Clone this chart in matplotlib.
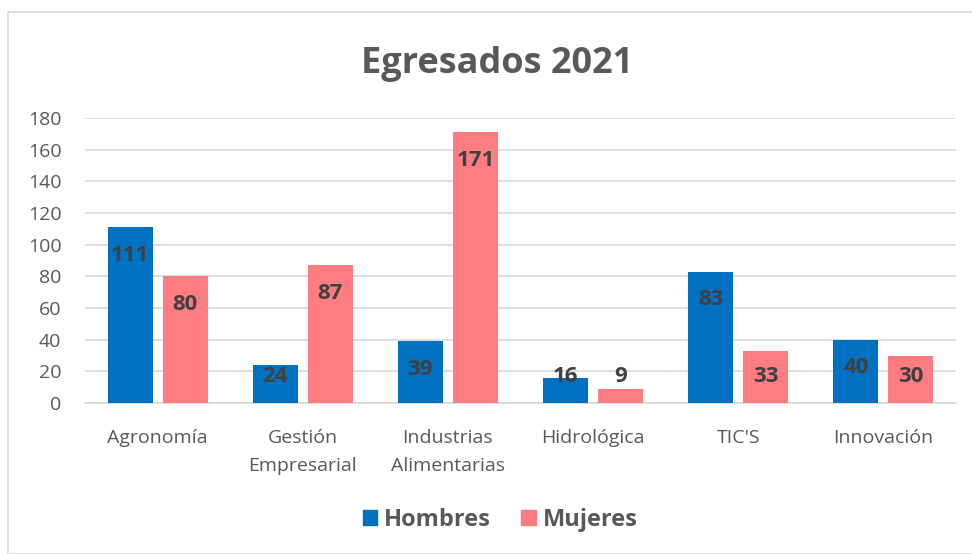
import matplotlib
matplotlib.use("Agg")
import matplotlib.pyplot as plt
from matplotlib.patches import Rectangle, Patch
import numpy as np

categories = ["Agronomía", "Gestión\nEmpresarial", "Industrias\nAlimentarias", "Hidrológica", "TIC'S", "Innovación"]
hombres = [111, 24, 39, 16, 83, 40]
mujeres = [80, 87, 171, 9, 33, 30]
yticks = [0, 20, 40, 60, 80, 100, 120, 140, 160, 180]

BLUE = "#0070C0"
PINK = "#FF7C80"
TXT = "#595959"
LBL = "#404040"

plt.rcParams['font.family'] = ['Open Sans', 'DejaVu Sans']

fig = plt.figure(figsize=(9.72, 5.54), dpi=100)
W, H = 972, 554
ax = fig.add_axes([85 / W, (H - 403) / H, (956 - 85) / W, (403 - 118) / H])

# outer border
fig.patches.append(Rectangle((8 / W, 0.0), 1.2, (H - 12) / H, transform=fig.transFigure,
                             fill=False, edgecolor="#D9D9D9", linewidth=1.2))

x = np.arange(len(categories))
bw = 0.31
gap = 0.035
b1 = ax.bar(x - bw / 2 - gap, hombres, bw, color=BLUE, zorder=3)
b2 = ax.bar(x + bw / 2 + gap, mujeres, bw, color=PINK, zorder=3)

ax.set_xlim(-0.5, len(categories) - 0.5)
ax.set_ylim(0, 180)
ax.set_yticks(yticks)
ax.set_xticks(x)
ax.set_xticklabels(categories, fontsize=14, color=TXT, linespacing=1.7)
ax.tick_params(axis='y', labelsize=14, labelcolor=TXT, length=0, pad=17)
ax.tick_params(axis='x', length=0, pad=19)
ax.grid(axis='y', color="#D9D9D9", linewidth=1.2, zorder=0)
for s in ["top", "right", "left"]:
    ax.spines[s].set_visible(False)
ax.spines["bottom"].set_color("#D9D9D9")
ax.spines["bottom"].set_linewidth(1.2)

px = 180 / 285.0
def label_y(v):
    return max(v - 28 * px, 26 * px)

for bars, vals in ((b1, hombres), (b2, mujeres)):
    for r, v in zip(bars, vals):
        ax.text(r.get_x() + r.get_width() / 2, label_y(v), str(v), ha='center', va='center',
                fontsize=16, fontweight='bold', color=LBL, zorder=5)

fig.text(497 / W, 1 - 64 / H, "Egresados 2021", ha='center', va='center',
         fontsize=26, fontweight='bold', color=TXT)

handles = [Patch(color=BLUE, label="Hombres"), Patch(color=PINK, label="Mujeres")]
leg = fig.legend(handles=handles, loc='center', bbox_to_anchor=(500 / W, 1 - 520 / H), ncol=2,
                 frameon=False, prop={'weight': 'bold', 'size': 17}, handlelength=0.6,
                 handleheight=0.6, handletextpad=0.3, columnspacing=1.3)
for t in leg.get_texts():
    t.set_color(TXT)

fig.savefig("out.png", dpi=100)
